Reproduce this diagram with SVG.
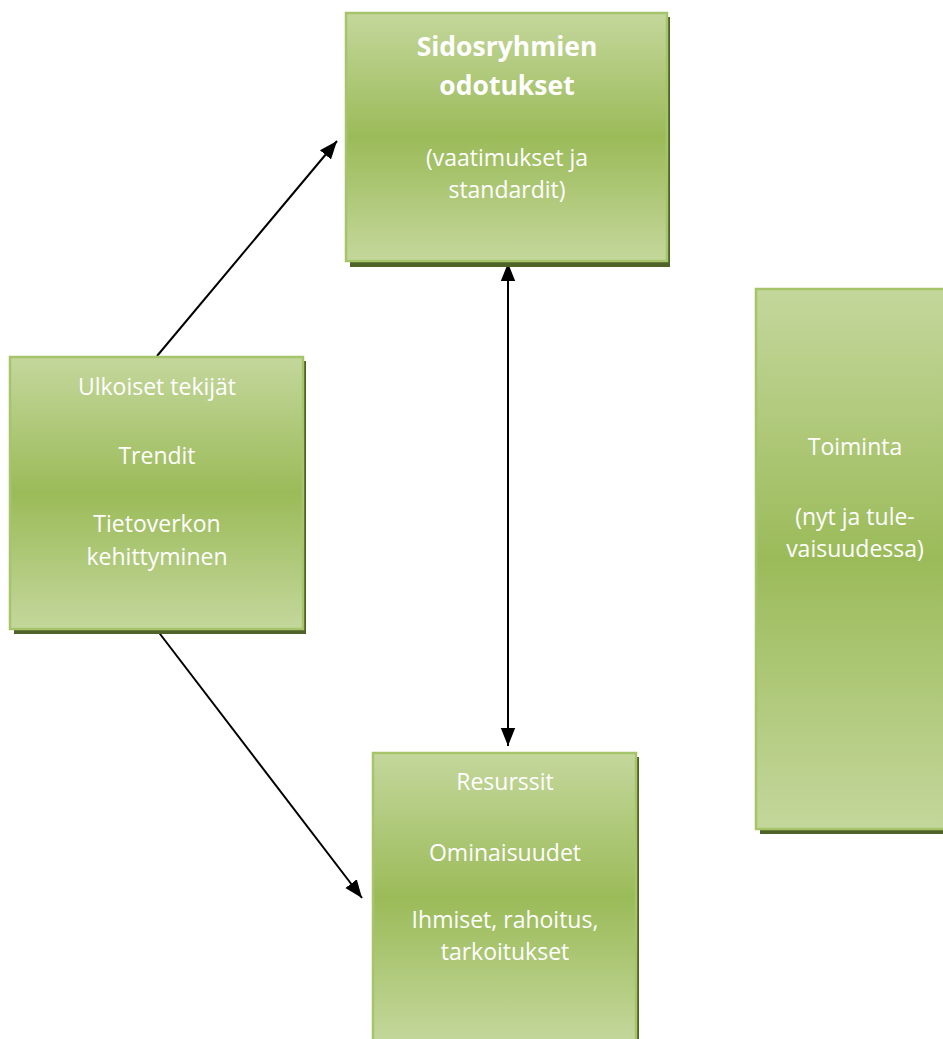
<svg xmlns="http://www.w3.org/2000/svg" width="943" height="1039" viewBox="0 0 943 1039">
<style>
.box{fill:url(#g);stroke:#a6c46a;stroke-width:2.5}
.sh{fill:#4f6228}
.t{font-family:"Open Sans","Liberation Sans",sans-serif;font-size:23px;fill:#ffffff;text-anchor:middle}
.b{font-weight:bold;font-size:26.5px}
.c{stroke:#000;stroke-width:2;fill:none}
</style>
<defs>
<linearGradient id="g" x1="0" y1="0" x2="0" y2="1">
<stop offset="0" stop-color="#c4d79c"/>
<stop offset="0.5" stop-color="#9bbb59"/>
<stop offset="1" stop-color="#c4d79c"/>
</linearGradient>
<marker id="a" viewBox="0 0 10 10" refX="10" refY="5" markerWidth="18" markerHeight="18" orient="auto-start-reverse" markerUnits="userSpaceOnUse">
<path d="M0,1 L10,5 L0,9 z" fill="#000"/>
</marker>
</defs>
<g id="connectors">
<line class="c" x1="157" y1="356" x2="337" y2="141" marker-end="url(#a)"/>
<line class="c" x1="157" y1="630" x2="362" y2="898" marker-end="url(#a)"/>
<line class="c" x1="508" y1="263" x2="508" y2="746" marker-start="url(#a)" marker-end="url(#a)"/>
</g>
<g id="sidosryhmat">
<rect class="sh" x="350" y="17" width="320" height="250"/>
<rect class="box" x="346" y="13" width="321" height="248"/>
<text class="t b" x="507" y="56">Sidosryhmien</text>
<text class="t b" x="507" y="95">odotukset</text>
<text class="t" x="507" y="166">(vaatimukset ja</text>
<text class="t" x="507" y="198">standardit)</text>
</g>
<g id="ulkoiset">
<rect class="sh" x="14" y="361" width="292" height="273"/>
<rect class="box" x="10" y="357" width="293" height="272"/>
<text class="t" x="157" y="395">Ulkoiset tekijät</text>
<text class="t" x="157" y="464">Trendit</text>
<text class="t" x="157" y="532">Tietoverkon</text>
<text class="t" x="157" y="565">kehittyminen</text>
</g>
<g id="resurssit">
<rect class="sh" x="377" y="757" width="262" height="290"/>
<rect class="box" x="373" y="753" width="263" height="290"/>
<text class="t" x="505" y="790">Resurssit</text>
<text class="t" x="505" y="861">Ominaisuudet</text>
<text class="t" x="505" y="928">Ihmiset, rahoitus,</text>
<text class="t" x="505" y="960">tarkoitukset</text>
</g>
<g id="toiminta">
<rect class="sh" x="760" y="293" width="200" height="541"/>
<rect class="box" x="756" y="289" width="200" height="540"/>
<text class="t" x="855" y="455">Toiminta</text>
<text class="t" x="855" y="525">(nyt ja tule-</text>
<text class="t" x="855" y="557">vaisuudessa)</text>
</g>
</svg>
